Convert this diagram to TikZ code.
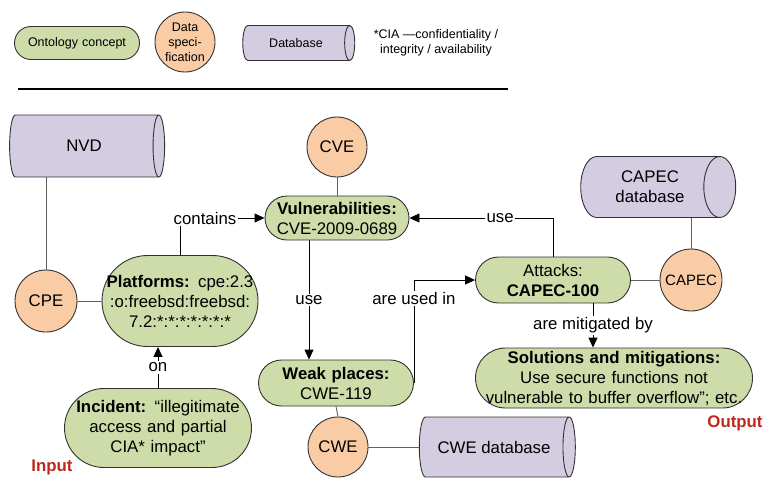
\documentclass[tikz,border=0pt]{standalone}
\usepackage{fontspec}
\setmainfont{Liberation Sans}
\usetikzlibrary{shapes.geometric, arrows.meta, calc}

\definecolor{conceptgreen}{RGB}{205,220,168}
\definecolor{specorange}{RGB}{249,204,166}
\definecolor{dbpurple}{RGB}{212,204,224}
\definecolor{border}{RGB}{50,50,50}
\definecolor{linegray}{RGB}{95,95,95}
\definecolor{tagred}{RGB}{192,40,30}

\newcommand\mainfs{\fontsize{16.8}{20}\selectfont}
\newcommand\legfs{\fontsize{12.5}{15}\selectfont}

\begin{document}
\begin{tikzpicture}[x=1pt, y=-1pt,
  concept/.style={draw=border, fill=conceptgreen, line width=0.9pt, align=center, inner sep=0pt, font=\mainfs},
  pill/.style n args={3}{minimum width=#1pt, text width=#1pt, minimum height=#2pt, rounded corners=#3pt},
  spec/.style={circle, draw=border, fill=specorange, line width=0.9pt, align=center, inner sep=0pt, font=\mainfs},
  db/.style={cylinder, shape border rotate=0, shape aspect=1, draw=border, fill=dbpurple, line width=0.9pt, align=center, inner sep=0pt, font=\mainfs},
  dbsize/.style n args={2}{minimum height=#1pt, minimum width=#2pt},
  link/.style={draw=linegray, line width=0.9pt},
  flow/.style={draw=black, line width=0.9pt, -{Triangle[length=10pt, width=9pt]}},
  lbl/.style={fill=white, inner sep=1.5pt, font=\mainfs},
  tag/.style={font=\mainfs\bfseries, text=tagred},
]
\path[use as bounding box] (0,0) rectangle (765,477);

% ---- legend ----
\node[concept, pill={125}{33}{16.5}, font=\legfs] (lg-concept) at (77,43) {Ontology concept};
\node[spec, minimum size=60pt, font=\legfs] (lg-spec) at (185,42) {Data\\speci-\\fication};
\node[db, dbsize={112}{35}, shape aspect=1.1, font=\legfs] (lg-db) at (296,43) {Database};
\node[align=center, font=\legfs, inner sep=0pt] (lg-note) at (436,43) {*CIA —confidentiality /\\integrity / availability};
\coordinate (rule-a) at (18,89);
\coordinate (rule-b) at (508,89);
\draw[line width=1.4pt] (rule-a) -- (rule-b);

% ---- data sources ----
\node[db, dbsize={155}{62}] (nvd) at (84,146) {NVD};
\node[spec, minimum size=62pt] (cpe) at (46,301) {CPE};
\node[spec, minimum size=60pt] (cve) at (337,147) {CVE};
\node[spec, minimum size=60pt] (cwe) at (338,447) {CWE};
\node[db, dbsize={156}{60}] (cwedb) at (494,447) {CWE database};
\node[db, dbsize={155}{61}] (capdb) at (650,187) {CAPEC\\database};
\node[spec, minimum size=62pt, font=\fontsize{15}{18}\selectfont] (capec) at (691,280) {CAPEC};

% ---- ontology concepts ----
\node[concept, pill={156}{91}{45.5}] (plat) at (180,301)
  {\textbf{Platforms:} cpe:2.3\\:o:freebsd:freebsd:\\7.2:*:*:*:*:*:*:*};
\node[concept, pill={187}{79}{39.5}] (inc) at (158,428)
  {\textbf{Incident:} “illegitimate\\access and partial\\CIA* impact”};
\node[concept, pill={144}{44}{22}] (vuln) at (337,218)
  {\textbf{Vulnerabilities:}\\CVE-2009-0689};
\node[concept, pill={155}{46}{23}] (weak) at (336,383)
  {\textbf{Weak places:}\\CWE-119};
\node[concept, pill={155}{46}{23}] (att) at (553,280)
  {Attacks:\\\textbf{CAPEC-100}};
\node[concept, pill={277}{60}{30}] (sol) at (614,378)
  {\textbf{Solutions and mitigations:}\\Use secure functions not\\vulnerable to buffer overflow”; etc.};

\node[tag] (input) at (52,467) {Input};
\node[tag] (output) at (735,423) {Output};

% ---- plain links ----
\draw[link] (cpe.north) -- (cpe.north |- nvd.south);
\draw[link] (cpe.east) -- (plat.west);
\draw[link] (cve.south) -- (vuln.north);
\draw[link] (weak.south) -- (cwe.north);
\draw[link] (cwe.east) -- (cwedb.west);
\draw[link] (capec.north) -- (capec.north |- capdb.south);
\draw[link] (att.east) -- (capec.west);

% ---- relations ----
\draw[flow] (plat.north) |- node[lbl, pos=0.5, xshift=25pt] {contains} (vuln.west);
\draw[flow] (inc.north) -- node[lbl] {on} (inc.north |- plat.south);
\coordinate (vuln-out) at ($(vuln.south)+(-28,0)$);
\draw[flow] (vuln-out) -- node[lbl] {use} (vuln-out |- weak.north);
\draw[flow] (weak.east) |- node[lbl, pos=0.41] {are used in} (att.west);
\draw[flow] (att.north) |- node[lbl, pos=0.684] {use} (vuln.east);
\coordinate (att-out) at ($(att.south)+(40,0)$);
\draw[flow] (att-out) -- node[lbl] {are mitigated by} (att-out |- sol.north);

\end{tikzpicture}
\end{document}
